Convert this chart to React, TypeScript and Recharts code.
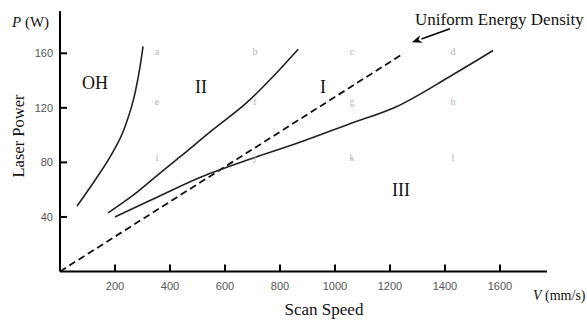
import { LineChart, Line, XAxis, YAxis, ReferenceDot, ReferenceLine } from "recharts";

if (typeof document !== "undefined") document.body.style.margin = "0";

const speedTicks = [200, 400, 600, 800, 1000, 1200, 1400, 1600];
const powerTicks = [40, 80, 120, 160];

// process window boundaries (V in mm/s, P in W)
const ohBoundary = [
  { v: 62, p: 48 },
  { v: 131, p: 68 },
  { v: 182, p: 84 },
  { v: 236, p: 106 },
  { v: 273, p: 131 },
  { v: 291, p: 150 },
  { v: 302, p: 165 },
];

const upperBoundary = [
  { v: 175, p: 43 },
  { v: 260, p: 55 },
  { v: 345, p: 69 },
  { v: 436, p: 84 },
  { v: 556, p: 104 },
  { v: 680, p: 124 },
  { v: 775, p: 143 },
  { v: 866, p: 163 },
];

const lowerBoundary = [
  { v: 200, p: 40 },
  { v: 327, p: 52 },
  { v: 509, p: 69 },
  { v: 700, p: 83 },
  { v: 862, p: 94 },
  { v: 1050, p: 108 },
  { v: 1225, p: 121 },
  { v: 1418, p: 143 },
  { v: 1575, p: 162 },
];

const energyDensity = [
  { v: 0, p: 0 },
  { v: 1250, p: 160 },
];

const sampleCols = [353, 709, 1062, 1429];
const sampleRows = [161, 124, 83];
const sampleLetters = ["a", "b", "c", "d", "e", "f", "g", "h", "i", "j", "k", "l"];

const regionLabels = [
  { text: "OH", v: 127, p: 138 },
  { text: "II", v: 513, p: 135 },
  { text: "I", v: 956, p: 135 },
  { text: "III", v: 1240, p: 60 },
];

const arrowTail = { v: 1418, p: 178 };
const arrowHead = { v: 1280, p: 168 };

const serif = "'Liberation Serif', 'Times New Roman', serif";
const sans = "'Liberation Sans', Arial, sans-serif";

function SpeedTick({ x, y, payload }: any) {
  return (
    <g>
      <line x1={x} x2={x} y1={y} y2={y - 7} stroke="#000" strokeWidth={2} />
      <text x={x} y={y + 18} textAnchor="middle" fontSize={11} fill="#555" fontFamily={sans}>
        {payload.value}
      </text>
    </g>
  );
}

function PowerTick({ x, y, payload }: any) {
  return (
    <g>
      <line x1={x} x2={x + 7} y1={y} y2={y} stroke="#000" strokeWidth={2} />
      <text x={x - 7} y={y + 4} textAnchor="end" fontSize={11} fill="#555" fontFamily={sans}>
        {payload.value}
      </text>
    </g>
  );
}

function Arrow(props: any) {
  const { x1, y1, x2, y2 } = props;
  const ang = Math.atan2(y2 - y1, x2 - x1);
  const len = 10;
  const w = 4;
  const bx = x2 - len * Math.cos(ang);
  const by = y2 - len * Math.sin(ang);
  const px = -Math.sin(ang) * w;
  const py = Math.cos(ang) * w;
  return (
    <g>
      <line x1={x1} y1={y1} x2={bx} y2={by} stroke="#000" strokeWidth={1.5} />
      <path
        d={`M${x2},${y2} L${bx + px},${by + py} L${bx + 3 * Math.cos(ang)},${by + 3 * Math.sin(ang)} L${bx - px},${by - py} Z`}
        fill="#000"
      />
    </g>
  );
}

export default function App() {
  return (
    <LineChart width={587} height={320} margin={{ top: 11, right: 40, bottom: 0, left: 0 }}>
      <XAxis
        type="number"
        dataKey="v"
        domain={[0, 1771]}
        ticks={speedTicks}
        allowDataOverflow
        height={48.5}
        tickSize={0}
        tickMargin={0}
        tickLine={false}
        axisLine={{ stroke: "#000", strokeWidth: 2 }}
        tick={<SpeedTick />}
      />
      <YAxis
        type="number"
        dataKey="p"
        domain={[0, 191]}
        ticks={powerTicks}
        allowDataOverflow
        width={60}
        tickSize={0}
        tickMargin={0}
        tickLine={false}
        axisLine={{ stroke: "#000", strokeWidth: 2 }}
        tick={<PowerTick />}
      />
      <Line data={energyDensity} dataKey="p" type="linear" stroke="#111" strokeWidth={1.8} strokeDasharray="7 4" dot={false} isAnimationActive={false} />
      <Line data={ohBoundary} dataKey="p" type="monotone" stroke="#222" strokeWidth={1.6} dot={false} isAnimationActive={false} />
      <Line data={upperBoundary} dataKey="p" type="monotone" stroke="#222" strokeWidth={1.6} dot={false} isAnimationActive={false} />
      <Line data={lowerBoundary} dataKey="p" type="monotone" stroke="#222" strokeWidth={1.6} dot={false} isAnimationActive={false} />

      {sampleLetters.map((ch, i) => (
        <ReferenceDot
          key={ch}
          x={sampleCols[i % 4]}
          y={sampleRows[Math.floor(i / 4)]}
          r={0}
          ifOverflow="visible"
          shape={(p: any) => (
            <text x={p.cx} y={p.cy + 3} textAnchor="middle" fontSize={10} fill="#b5b5b5" fontFamily={serif}>
              {ch}
            </text>
          )}
        />
      ))}

      {regionLabels.map((r) => (
        <ReferenceDot
          key={r.text}
          x={r.v}
          y={r.p}
          r={0}
          ifOverflow="visible"
          shape={(p: any) => (
            <text x={p.cx} y={p.cy + 6} textAnchor="middle" fontSize={18} fill="#111" fontFamily={serif}>
              {r.text}
            </text>
          )}
        />
      ))}

      <ReferenceLine
        segment={[
          { x: arrowTail.v, y: arrowTail.p },
          { x: arrowHead.v, y: arrowHead.p },
        ]}
        ifOverflow="visible"
        shape={<Arrow />}
      />
      <ReferenceDot
        x={1291}
        y={184.5}
        r={0}
        ifOverflow="visible"
        shape={(p: any) => (
          <text x={p.cx} y={p.cy + 5} textAnchor="start" fontSize={17} fill="#111" fontFamily={serif}>
            Uniform Energy Density
          </text>
        )}
      />

      {/* axis titles */}
      <text x={12} y={27} fontSize={15} fill="#111" fontFamily={serif}>
        <tspan fontStyle="italic">P</tspan> (W)
      </text>
      <text
        x={18}
        y={136}
        transform="rotate(-90 18 136)"
        textAnchor="middle"
        dominantBaseline="central"
        fontSize={16.5}
        fill="#111"
        fontFamily={serif}
      >
        Laser Power
      </text>
      <text x={533} y={300} fontSize={14} fill="#111" fontFamily={serif}>
        <tspan fontStyle="italic">V</tspan> (mm/s)
      </text>
      <text x={324} y={315} textAnchor="middle" fontSize={17} fill="#111" fontFamily={serif}>
        Scan Speed
      </text>
    </LineChart>
  );
}
